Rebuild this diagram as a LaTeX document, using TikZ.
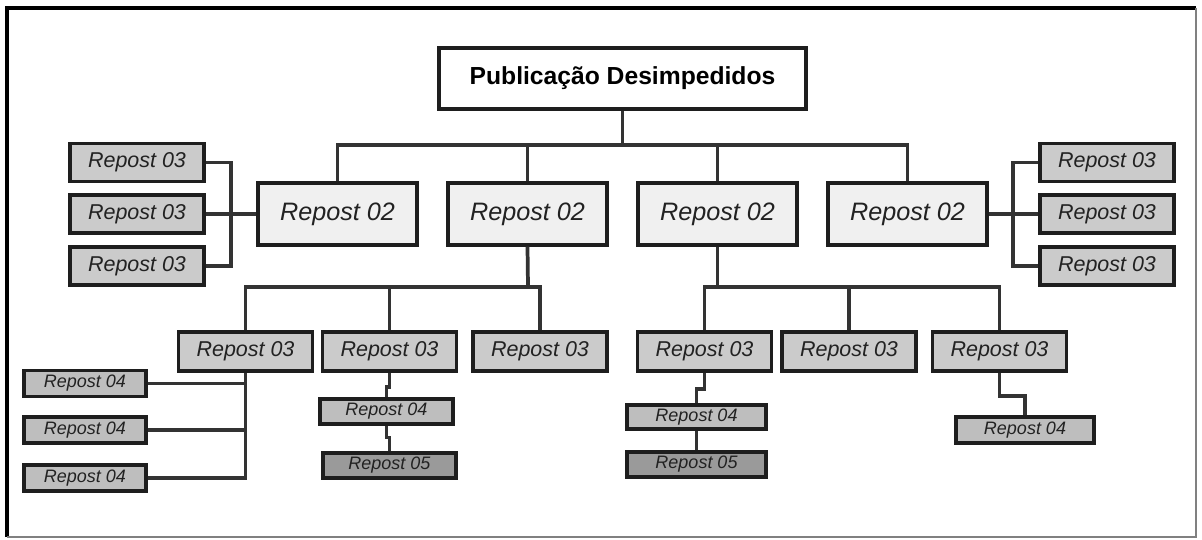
\documentclass[tikz,border=0pt]{standalone}
\usepackage{fontspec}
\setmainfont{Liberation Sans}
\usetikzlibrary{positioning}
\definecolor{boxline}{HTML}{1E1E1E}
\definecolor{wirecol}{HTML}{333333}
\definecolor{txtcol}{HTML}{222222}
\definecolor{fillii}{HTML}{F0F0F0}
\definecolor{filliii}{HTML}{CBCBCB}
\definecolor{filliv}{HTML}{BEBEBE}
\definecolor{fillv}{HTML}{9A9A9A}
\tikzset{
  title/.style    = {draw=boxline, line width=2.8pt, fill=white, text=black,
                     minimum width=275pt, minimum height=45.75pt,
                     font=\fontsize{18.5}{20}\selectfont\bfseries},
  lvltwo/.style   = {draw=boxline, line width=2.6pt, fill=fillii, text=txtcol,
                     minimum width=119.25pt, minimum height=46.5pt,
                     font=\fontsize{18.9}{20}\selectfont\itshape},
  lvlthree/.style = {draw=boxline, line width=2.5pt, fill=filliii, text=txtcol,
                     minimum width=100.5pt, minimum height=28.5pt,
                     font=\fontsize{16.1}{18}\selectfont\itshape},
  lvlfour/.style  = {draw=boxline, line width=2.4pt, fill=filliv, text=txtcol,
                     minimum width=91.5pt, minimum height=19.5pt, inner sep=0pt,
                     font=\fontsize{13.5}{15}\selectfont\itshape},
  lvlfive/.style  = {lvlfour, fill=fillv},
  wire/.style     = {draw=wirecol, line width=2.8pt},
}

\begin{document}
\begin{tikzpicture}[x=0.75pt,y=-0.75pt]
  \useasboundingbox (0,0) rectangle (1202,539);
  % frame
  \draw[line width=2.4pt,black] (7,537) -- (7,8) -- (1196,8);
  \draw[line width=1.6pt,gray] (1196,8) -- (1196,537) -- (7,537);

  % top and second level
  \node[title] (top) at (622.5,78.5) {Publicação Desimpedidos};
  \foreach \n/\x in {a/337.5,b/527.5,c/717.5,d/907.5}
    \node[lvltwo] (r2\n) at (\x,214) {Repost 02};
  \coordinate (tbus) at (622.5,145);
  \draw[wire] (top.south) -- (tbus);
  \draw[wire] (r2a.north) |- (tbus) -| (r2d.north);
  \draw[wire] (r2b.north) -- (r2b.north |- tbus);
  \draw[wire] (r2c.north) -- (r2c.north |- tbus);

  % side third level
  \foreach \i/\y in {1/162.5,2/214,3/266}{
    \node[lvlthree] (l\i) at (137,\y) {Repost 03};
    \node[lvlthree] (rt\i) at (1107,\y) {Repost 03};}
  \coordinate (lj) at (231,214);
  \coordinate (rj) at (1013,214);
  \draw[wire] (r2a.west) -- (l2.east);
  \draw[wire] (l1.east) -| (lj) |- (l3.east);
  \draw[wire] (r2d.east) -- (rt2.west);
  \draw[wire] (rt1.west) -| (rj) |- (rt3.west);

  % lower third level
  \foreach \n/\x in {A/245.5,B/389.5,C/540,D/704.5,E/849,F/999.5}
    \node[lvlthree, minimum height=29.25pt] (\n) at (\x,351.5) {Repost 03};
  \coordinate (bmidl) at (528,287);
  \coordinate (bmidr) at (717.5,287);
  \draw[wire] (r2b.south) -- (bmidl);
  \draw[wire] (A.north) |- (bmidl) -| (C.north);
  \draw[wire] (B.north) -- (B.north |- bmidl);
  \draw[wire] (r2c.south) -- (bmidr);
  \draw[wire] (D.north) |- (bmidr) -| (F.north);
  \draw[wire] (E.north) -- (E.north |- bmidr);

  % fourth and fifth level
  \foreach \i/\y in {1/383.5,2/430,3/478}
    \node[lvlfour] (f\i) at (85,\y) {Repost 04};
  \draw[wire] (A.south) |- (f3.east);
  \draw[wire] (f1.east) -- (f1.east -| A.south);
  \draw[wire] (f2.east) -- (f2.east -| A.south);

  \node[lvlfour, minimum width=99.75pt, minimum height=18.75pt] (g4) at (386.5,411.5) {Repost 04};
  \node[lvlfive, minimum width=99.75pt, minimum height=18.75pt] (g5) at (389.5,465.5) {Repost 05};
  \draw[wire] (B.south) -- ++(0,14) -| (g4.north);
  \draw[wire] (g4.south) -- ++(0,12) -| (g5.north);

  \node[lvlfour, minimum width=104.25pt, minimum height=18pt] (h4) at (696.5,417) {Repost 04};
  \node[lvlfive, minimum width=104.25pt, minimum height=18.75pt] (h5) at (696.5,464.5) {Repost 05};
  \draw[wire] (D.south) -- ++(0,16) -| (h4.north);
  \draw[wire] (h4.south) -- (h5.north);

  \node[lvlfour, minimum width=103.5pt] (k4) at (1025,430) {Repost 04};
  \draw[wire] (F.south) -- ++(0,23) -| (k4.north);
\end{tikzpicture}
\end{document}
